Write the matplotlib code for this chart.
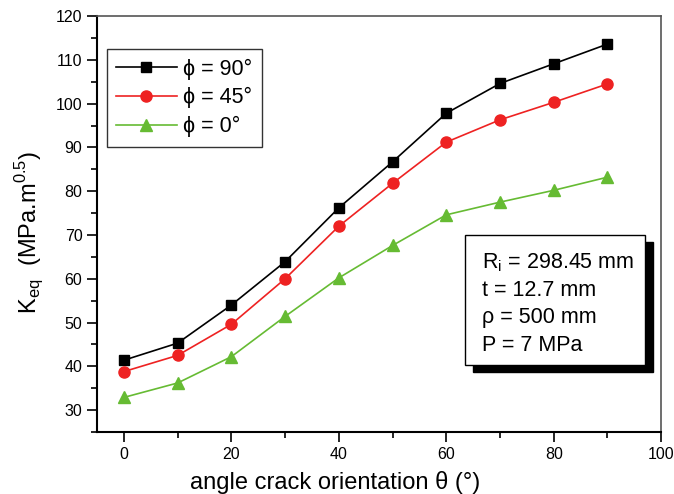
import matplotlib.pyplot as plt
from matplotlib.patches import Rectangle
from matplotlib.ticker import MultipleLocator

plt.rcParams['font.family'] = ['Liberation Sans', 'DejaVu Sans']

# Data
theta = [0, 10, 20, 30, 40, 50, 60, 70, 80, 90]
k_phi90 = [41.4, 45.3, 54.0, 63.9, 76.2, 86.7, 97.8, 104.6, 109.1, 113.6]
k_phi45 = [38.8, 42.5, 49.6, 60.0, 72.0, 81.8, 91.2, 96.3, 100.3, 104.5]
k_phi0 = [32.9, 36.2, 42.2, 51.4, 60.2, 67.6, 74.6, 77.5, 80.2, 83.2]

labels = ["\u03d5 = 90°", "\u03d5 = 45°", "\u03d5 = 0°"]
info_lines = ["R$_\\mathregular{i}$ = 298.45 mm", "t = 12.7 mm", "\u03c1 = 500 mm", "P = 7 MPa"]

fig = plt.figure(figsize=(6.74, 4.94), dpi=100)
ax = fig.add_axes([0.144, 0.1255, 0.837, 0.842])

ax.plot(theta, k_phi90, color="black", marker="s", markersize=7, linewidth=1.2, label=labels[0])
ax.plot(theta, k_phi45, color="#ee2222", marker="o", markersize=8, linewidth=1.2, label=labels[1])
ax.plot(theta, k_phi0, color="#66bb33", marker="^", markersize=8.5, linewidth=1.2, label=labels[2])

ax.set_xlim(-5, 100)
ax.set_ylim(25, 120)
ax.set_xticks(range(0, 101, 20))
ax.set_yticks(range(30, 121, 10))
ax.xaxis.set_minor_locator(MultipleLocator(10))
ax.yaxis.set_minor_locator(MultipleLocator(5))
ax.tick_params(which="major", direction="out", length=7, width=1.2, labelsize=11.5, top=False, right=False)
ax.tick_params(which="minor", direction="out", length=4, width=1.2, top=False, right=False)
for side in ["left", "bottom"]:
    ax.spines[side].set_linewidth(1.5)
for side in ["top", "right"]:
    ax.spines[side].set_linewidth(1.2)
    ax.spines[side].set_color("#555555")

fig.text(335 / 674, 1 - 482 / 494, "angle crack orientation \u03b8 (°)", fontsize=17,
         ha="center", va="center")
fig.text(30 / 674, 1 - 232 / 494, "K$_\\mathregular{eq}$  (MPa.m$^\\mathregular{0.5}$)", fontsize=17,
         ha="center", va="center", rotation=90)

leg = ax.legend(loc="upper left", bbox_to_anchor=(0.017, 0.921), fontsize=15.5, frameon=True,
                fancybox=False, edgecolor="black", handlelength=2.8, handletextpad=0.3,
                borderpad=0.45, labelspacing=0.35, borderaxespad=0)
leg.get_frame().set_linewidth(1.0)

# info box with drop shadow
bx, by, bw, bh = 465 / 674, 1 - 365 / 494, 180 / 674, 130 / 494
fig.patches.append(Rectangle((bx + 8 / 674, by - 7 / 494), bw, bh, transform=fig.transFigure,
                             facecolor="black", edgecolor="black", zorder=5))
fig.patches.append(Rectangle((bx, by), bw, bh, transform=fig.transFigure,
                             facecolor="white", edgecolor="black", linewidth=1.0, zorder=6))
for i, line in enumerate(info_lines):
    fig.text(bx + 17 / 674, 1 - (263 + i * 27.5) / 494, line, fontsize=15.5, va="center", ha="left", zorder=7)

fig.savefig("out.png", dpi=100)
